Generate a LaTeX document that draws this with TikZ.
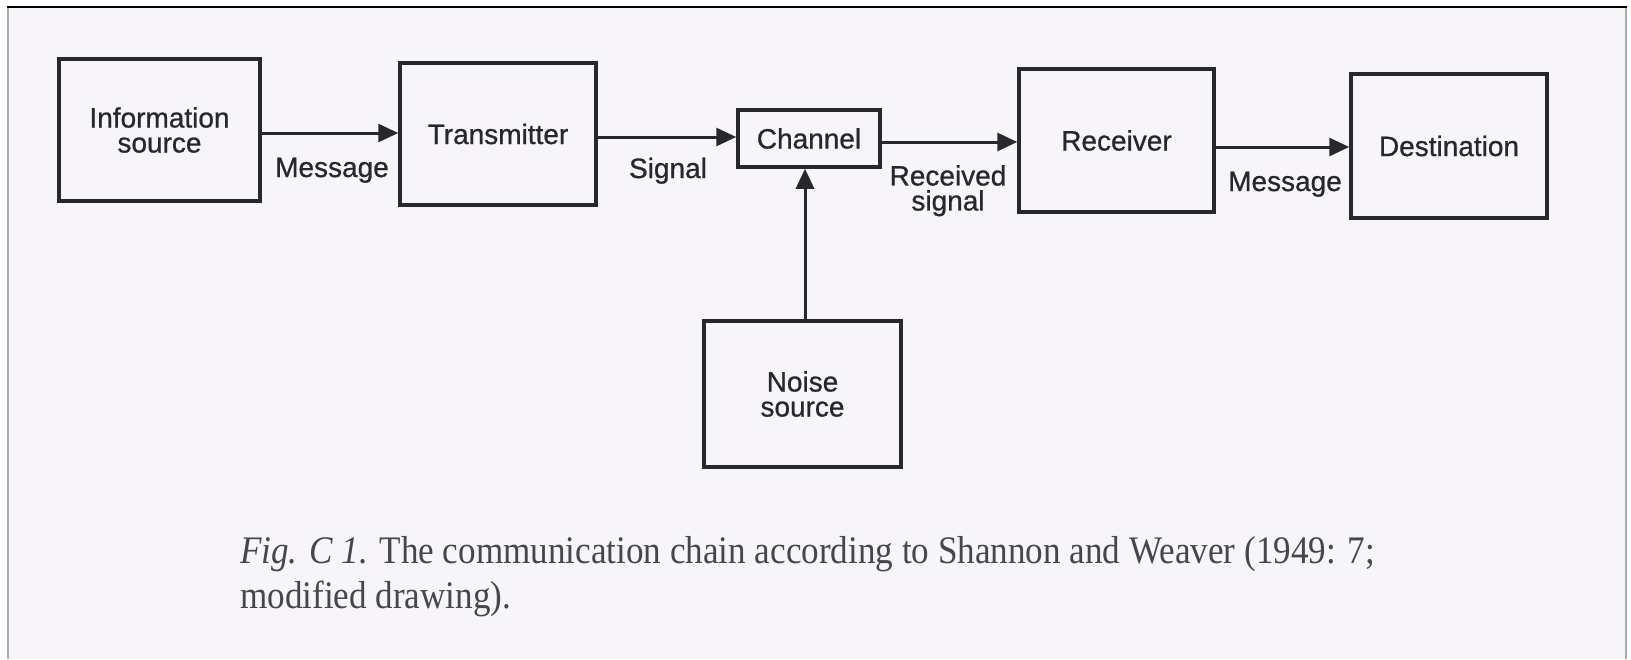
\documentclass[tikz,border=0pt]{standalone}
\usepackage{fontspec}
\setmainfont{Liberation Serif}
\newfontfamily\boxfont[FakeBold=0.8]{Liberation Sans}
\newfontfamily\capfont[FakeStretch=0.9]{Liberation Serif}
\usetikzlibrary{arrows.meta}
\definecolor{paper}{RGB}{248,245,250}
\definecolor{ink}{RGB}{40,40,44}
\definecolor{capink}{RGB}{70,70,76}
\definecolor{framegray}{RGB}{170,170,175}
\begin{document}
\begin{tikzpicture}[x=1pt,y=-1pt,
  blk/.style={draw=ink, line width=3.5pt, inner sep=0pt, align=center, text=ink,
    font=\boxfont\fontsize{28}{25}\selectfont},
  lbl/.style={inner sep=0pt, align=center, text=ink,
    font=\boxfont\fontsize{28}{25}\selectfont},
  arr/.style={draw=ink, line width=3pt, -{Triangle[length=20pt,width=18pt]}},
  captext/.style={inner sep=0pt, text=capink, font=\capfont\fontsize{39}{45}\selectfont},
]
\useasboundingbox (0,0) rectangle (1631,659);
% page background and frame
\fill[white] (0,0) rectangle (1631,659);
\fill[paper] (8,7) rectangle (1626,659);
\draw[framegray, line width=2pt] (8,7) -- (8,659);
\draw[framegray, line width=2pt] (1626,7) -- (1626,659);
\draw[black, line width=2.5pt] (7,7) -- (1627,7);

% boxes
\node[blk, minimum width=201pt, minimum height=142pt] (info)  at (159.5,130) {Information\\source};
\node[blk, minimum width=196pt, minimum height=142pt] (trans) at (498,134)   {Transmitter};
\node[blk, minimum width=142pt, minimum height=57pt]  (chan)  at (809,138.5) {Channel};
\node[blk, minimum width=195pt, minimum height=143pt] (recv)  at (1116.5,140.5) {Receiver};
\node[blk, minimum width=196pt, minimum height=144pt] (dest)  at (1449,146)  {Destination};
\node[blk, minimum width=197pt, minimum height=146pt] (noise) at (802.5,394) {Noise\\source};

% connectors
\draw[arr] ([yshift=-3pt]info.east)   -- ([yshift=1pt]trans.west);
\draw[arr] ([yshift=-3pt]trans.east)  -- ([yshift=1.5pt]chan.west);
\draw[arr] ([yshift=-3.5pt]chan.east) -- ([yshift=-1.5pt]recv.west);
\draw[arr] ([yshift=-6.5pt]recv.east) -- ([yshift=-1pt]dest.west);
\draw[arr] ([xshift=2.5pt]noise.north) -- ([xshift=-4pt]chan.south);

% connector labels
\node[lbl, anchor=base] (m1) at (332,177) {Message};
\node[lbl, anchor=base] (sg) at (668,178) {Signal};
\node[lbl, anchor=north] (rs) at (948,165) {Received\\signal};
\node[lbl, anchor=base] (m2) at (1285,191) {Message};

% caption
\node[captext, anchor=base west] (cap1) at (240,563) {\textit{Fig. C 1.} The communication chain according to Shannon and Weaver (1949: 7;};
\node[captext, anchor=base west] (cap2) at (240,608) {modified drawing).};
\end{tikzpicture}
\end{document}
